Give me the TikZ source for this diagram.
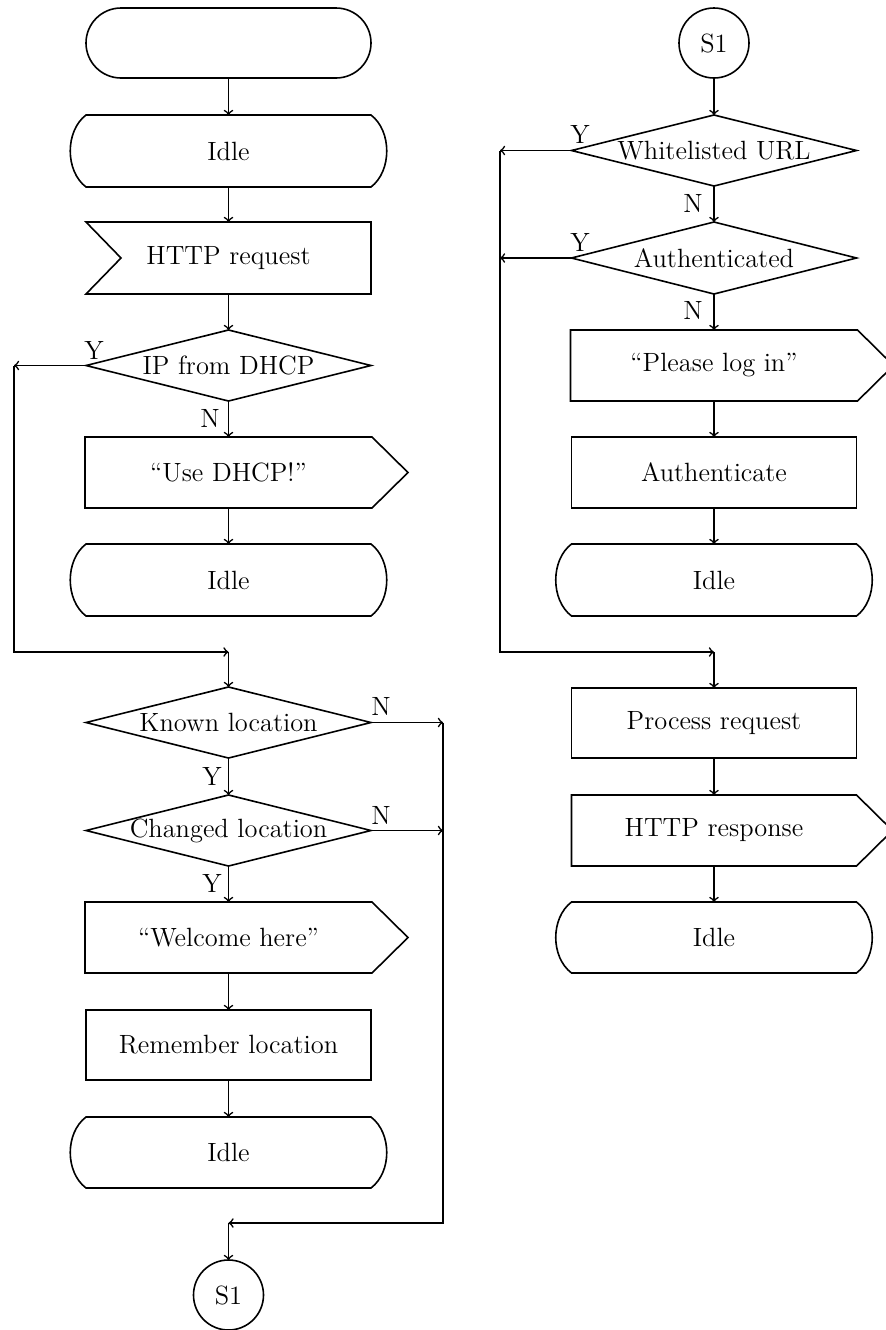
\documentclass[tikz,border=0pt]{standalone}
\begin{document}
\begin{tikzpicture}[x=0.5pt,y=-0.5pt,line width=0.8pt,>=to,
  every node/.style={font=\fontsize{13.2}{16}\selectfont,inner sep=0pt,outer sep=0pt},
  body/.style={rectangle,minimum width=142.5pt,minimum height=35.5pt},
  procbox/.style={body,draw},
  termbox/.style={body,draw,rounded corners=17.5pt,minimum height=35pt},
  connbox/.style={circle,draw,minimum size=35pt},
  lbl/.style={}]
\useasboundingbox (0,0) rectangle (885,1330);

% ---- left column ----
\node[termbox] (start) at (228.5,43) {};
\node[body,minimum height=36pt] (idleA) at (228.5,151) {Idle};
\node[body,minimum height=36pt] (recv) at (228.5,258) {HTTP request};
\node[body] (dhcp) at (228.5,365.5) {IP from DHCP};
\node[body,minimum width=143.5pt] (useDHCP) at (228.5,472.5) {``Use DHCP!''};
\node[body,minimum height=36pt] (idleB) at (228.5,580) {Idle};
\coordinate (j1) at (228.5,652);
\node[body] (known) at (228.5,722.5) {Known location};
\node[body] (changed) at (228.5,830.5) {Changed location};
\node[body,minimum width=143.5pt] (welcome) at (228.5,937.5) {``Welcome here''};
\node[procbox,minimum height=35pt] (remember) at (228.5,1045) {Remember location};
\node[body] (idleC) at (228.5,1152.5) {Idle};
\coordinate (j2) at (228.5,1223);
\node[connbox] (s1b) at (228.5,1295) {S1};

\coordinate (ly) at (14,365.5);
\coordinate (rN1) at (443,722.5);
\coordinate (rN2) at (443,830.5);

% ---- right column ----
\node[connbox] (s1t) at (714,43) {S1};
\node[body] (white) at (714,150.5) {Whitelisted URL};
\node[body,minimum height=36pt] (auth) at (714,258) {Authenticated};
\node[body,minimum width=143.5pt] (please) at (714,365.5) {``Please log in''};
\node[procbox] (authn) at (714,472.5) {Authenticate};
\node[body,minimum height=36pt] (idleD) at (714,580) {Idle};
\coordinate (j3) at (714,652);
\node[procbox,minimum height=35pt] (process) at (714,723) {Process request};
\node[body] (response) at (714,830.5) {HTTP response};
\node[body] (idleE) at (714,937.5) {Idle};

\coordinate (ry1) at (500,150.5);
\coordinate (ry2) at (500,258);

% ---- outlines of the special symbols ----
\foreach \n in {idleA,idleB,idleC,idleD,idleE}
  \draw (\n.north west) -- (\n.north east)
        .. controls +(21,16) and +(21,-16) .. (\n.south east)
        -- (\n.south west)
        .. controls +(-21,-16) and +(-21,16) .. (\n.north west) -- cycle;
\foreach \n in {useDHCP,welcome,please,response}
  \draw (\n.north west) -- (\n.north east) -- ([xshift=18pt]\n.east)
        -- (\n.south east) -- (\n.south west) -- cycle;
\draw (recv.north west) -- (recv.north east) -- (recv.south east)
      -- (recv.south west) -- ([xshift=17.5pt]recv.west) -- cycle;
\foreach \n in {dhcp,known,changed,white,auth}
  \draw (\n.north) -- (\n.east) -- (\n.south) -- (\n.west) -- cycle;

% ---- connectors, left column ----
\draw[->] (start) -- (idleA);
\draw[->] (idleA) -- (recv);
\draw[->] (recv) -- (dhcp);
\draw[->] (dhcp) -- (useDHCP);
\draw[->] (useDHCP) -- (idleB);
\draw[->] (dhcp.west) -- (ly);
\draw[->] (ly) |- (j1);
\draw[->] (j1) -- (known.north);
\draw[->] (known) -- (changed);
\draw[->] (changed) -- (welcome);
\draw[->] (welcome) -- (remember);
\draw[->] (remember) -- (idleC);
\draw[->] (known.east) -- (rN1);
\draw[->] (changed.east) -- (rN2);
\draw[->] (rN1) |- (j2);
\draw[->] (j2) -- (s1b);

% ---- connectors, right column ----
\draw[->] (s1t) -- (white);
\draw[->] (white) -- (auth);
\draw[->] (auth) -- (please);
\draw[->] (please) -- (authn);
\draw[->] (authn) -- (idleD);
\draw[->] (white.west) -- (ry1);
\draw[->] (auth.west) -- (ry2);
\draw[->] (ry1) |- (j3);
\draw[->] (j3) -- (process.north);
\draw[->] (process) -- (response);
\draw[->] (response) -- (idleE);

% ---- branch labels ----
\node[lbl] (yDhcp) at (94,350) {Y};
\node[lbl] (nDhcp) at (210,418) {N};
\node[lbl] (nKnown) at (381,706) {N};
\node[lbl] (yKnown) at (212,776) {Y};
\node[lbl] (nChanged) at (381,815) {N};
\node[lbl] (yChanged) at (212,883) {Y};
\node[lbl] (yWhite) at (580,134) {Y};
\node[lbl] (nWhite) at (693,203) {N};
\node[lbl] (yAuth) at (580,242) {Y};
\node[lbl] (nAuth) at (693,310) {N};
\end{tikzpicture}
\end{document}
